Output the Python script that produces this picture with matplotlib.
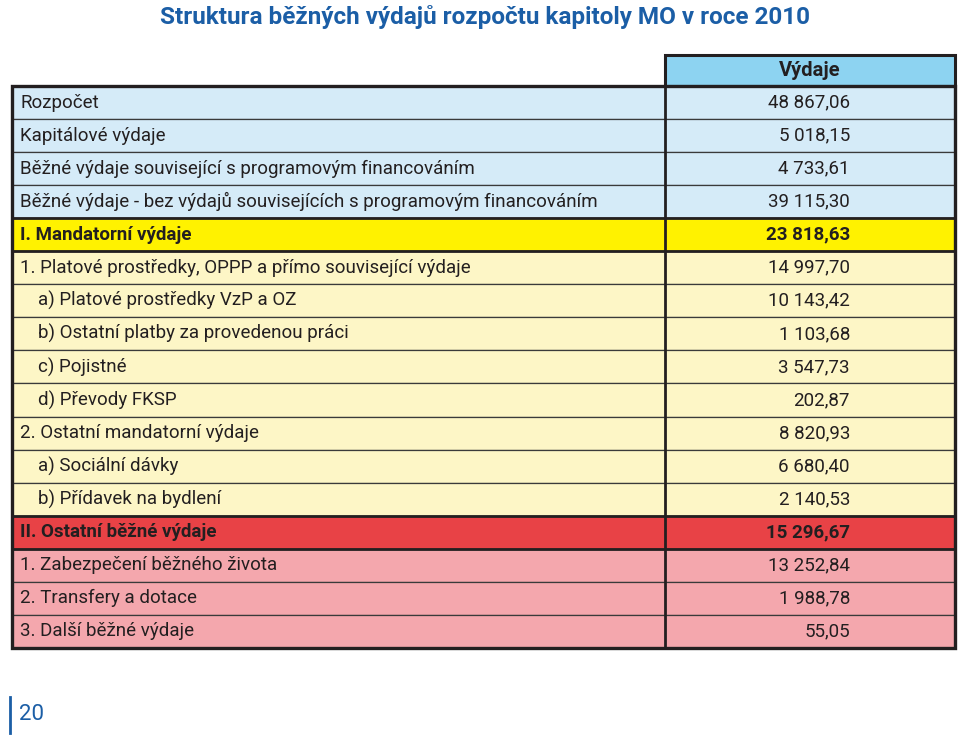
import matplotlib
matplotlib.use("Agg")
import matplotlib.pyplot as plt
from matplotlib.patches import Rectangle

plt.rcParams['font.family'] = ['Roboto', 'DejaVu Sans']

title = "Struktura běžných výdajů rozpočtu kapitoly MO v roce 2010"
header = "Výdaje"
labels = [
    "Rozpočet",
    "Kapitálové výdaje",
    "Běžné výdaje související s programovým financováním",
    "Běžné výdaje - bez výdajů souvisejících s programovým financováním",
    "I. Mandatorní výdaje",
    "1. Platové prostředky, OPPP a přímo související výdaje",
    "a) Platové prostředky VzP a OZ",
    "b) Ostatní platby za provedenou práci",
    "c) Pojistné",
    "d) Převody FKSP",
    "2. Ostatní mandatorní výdaje",
    "a) Sociální dávky",
    "b) Přídavek na bydlení",
    "II. Ostatní běžné výdaje",
    "1. Zabezpečení běžného života",
    "2. Transfery a dotace",
    "3. Další běžné výdaje",
]
values = ["48 867,06", "5 018,15", "4 733,61", "39 115,30", "23 818,63",
          "14 997,70", "10 143,42", "1 103,68", "3 547,73", "202,87",
          "8 820,93", "6 680,40", "2 140,53", "15 296,67", "13 252,84",
          "1 988,78", "55,05"]
# row kind: 0 = overview, 1 = mandatory header, 2 = mandatory item, 3 = other header, 4 = other item
kinds = [0, 0, 0, 0, 1, 2, 2, 2, 2, 2, 2, 2, 2, 3, 4, 4, 4]
indent = [0, 0, 0, 0, 0, 0, 1, 1, 1, 1, 0, 1, 1, 0, 0, 0, 0]
page = "20"

fill = {0: '#d5ebf8', 1: '#fff200', 2: '#fdf6c6', 3: '#e84246', 4: '#f4a7ad'}
head_col = '#8dd3f1'

fig = plt.figure(figsize=(9.6, 7.42), dpi=100)
ax = fig.add_axes([0, 0, 1, 1])
ax.set_xlim(0, 960)
ax.set_ylim(742, 0)
ax.axis('off')

x0, xm, x1 = 12, 665, 955
top = 86
rh = 33.05
fs = 13.5

ax.text(485, 17, title, color='#1b5ea6', fontsize=17.5, fontweight='bold',
        ha='center', va='center')

# header
ax.add_patch(Rectangle((xm, 55), x1 - xm, top - 55, facecolor=head_col,
                       edgecolor='#231f20', lw=2.2))
ax.text((xm + x1) / 2, 71, header, fontsize=14.5, fontweight='bold',
        ha='center', va='center', color='#231f20')

for i, (lab, val, k) in enumerate(zip(labels, values, kinds)):
    y = top + i * rh
    bold = k in (1, 3)
    ax.add_patch(Rectangle((x0, y), x1 - x0, rh, facecolor=fill[k],
                           edgecolor='#3a3a3a', lw=0.9))
    ax.text(x0 + 8 + indent[i] * 18, y + rh / 2, lab, fontsize=fs,
            fontweight='bold' if bold else 'normal', ha='left', va='center',
            color='#231f20')
    ax.text(850, y + rh / 2, val, fontsize=fs,
            fontweight='bold' if bold else 'normal', ha='right', va='center',
            color='#231f20')

# thicker rules around the section headers
for i, k in enumerate(kinds):
    if k in (1, 3):
        y = top + i * rh
        ax.add_patch(Rectangle((x0, y), x1 - x0, rh, facecolor='none',
                               edgecolor='#231f20', lw=2.0))

bottom = top + len(labels) * rh
ax.plot([xm, xm], [top, bottom], color='#231f20', lw=2.0)
ax.add_patch(Rectangle((x0, top), x1 - x0, bottom - top, facecolor='none',
                       edgecolor='#231f20', lw=2.4))

# page number
ax.plot([10, 10], [697, 733], color='#1b5ea6', lw=2)
ax.text(19, 714, page, fontsize=16, color='#1b5ea6', ha='left', va='center')

fig.savefig('out.png', dpi=100)
